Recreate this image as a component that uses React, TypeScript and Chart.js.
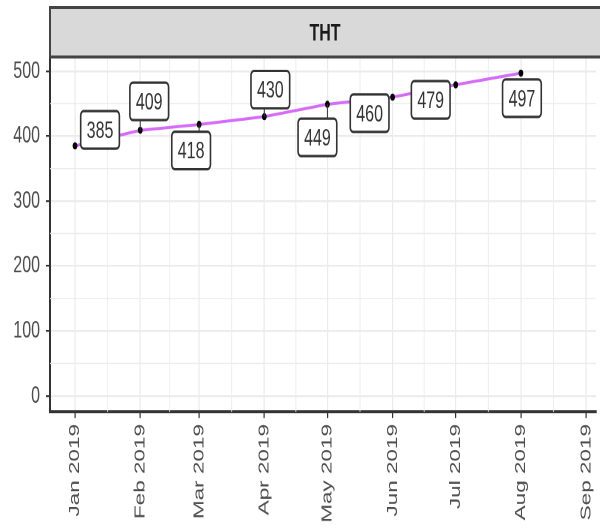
import React, { useEffect, useRef } from "react";
import { Chart, registerables } from "chart.js";

Chart.register(...registerables);

// ---- data ----
const facetTitle = "THT";
const monthLabels = [
  "Jan 2019", "Feb 2019", "Mar 2019", "Apr 2019", "May 2019",
  "Jun 2019", "Jul 2019", "Aug 2019", "Sep 2019",
];
const pointMonths = [0, 1, 2, 3, 4, 5, 6, 7];
const values = [385, 409, 418, 430, 449, 460, 479, 497];
const yTicks = [0, 100, 200, 300, 400, 500];
const yMinorTicks = [50, 150, 250, 350, 450];
// label nudges (page px, from point to label centre), as placed by the repel layout
const labelNudgeX = [25, 9, -8, 6, -10, -23, -25, 1];
const labelNudgeY = [-16, -29, 26, -27, 33, 16, 15, 25];

// ---- layout constants ----
const W = 600;
const PAGE_H = 531;
const SY = 1.5; // vertical stretch of the picture
const H = PAGE_H / SY;
const FONT = "'Liberation Sans', Arial, sans-serif";

const dayOf = (m: number) =>
  (Date.UTC(2019, m, 1) - Date.UTC(2019, 0, 1)) / 86400000;
const monthDays = monthLabels.map((_, i) => dayOf(i));
const minorDays = monthDays.slice(0, -1).map((d, i) => (d + monthDays[i + 1]) / 2);

const X_MIN = -11.9;
const X_MAX = 247.7;
const Y_MIN = -24.85;
const Y_MAX = 521.85;

const decorPlugin = {
  id: "decor",
  beforeDatasetsDraw(chart: any) {
    const { ctx, chartArea: a, scales } = chart;
    ctx.save();
    ctx.strokeStyle = "#ebebeb";
    ctx.lineWidth = 0.8;
    minorDays.forEach((d) => {
      const x = scales.x.getPixelForValue(d);
      ctx.beginPath();
      ctx.moveTo(x, a.top);
      ctx.lineTo(x, a.bottom);
      ctx.stroke();
    });
    yMinorTicks.forEach((v) => {
      const y = scales.y.getPixelForValue(v);
      ctx.beginPath();
      ctx.moveTo(a.left, y);
      ctx.lineTo(a.right, y);
      ctx.stroke();
    });
    ctx.restore();
  },
  afterDatasetsDraw(chart: any) {
    const { ctx, chartArea: a, scales } = chart;
    ctx.save();
    // strip
    const sTop = 5;
    ctx.fillStyle = "#d9d9d9";
    ctx.fillRect(a.left, sTop, W - a.left + 5, a.top - sTop);
    ctx.strokeStyle = "#444";
    ctx.lineWidth = 2;
    ctx.strokeRect(a.left, sTop, W - a.left + 5, a.top - sTop);
    ctx.fillStyle = "#1a1a1a";
    ctx.font = `bold 16px ${FONT}`;
    ctx.textAlign = "center";
    ctx.textBaseline = "middle";
    ctx.fillText(facetTitle, (a.left + W) / 2, (sTop + a.top) / 2 + 1);

    // labels
    ctx.font = `16px ${FONT}`;
    values.forEach((v, i) => {
      const px = scales.x.getPixelForValue(dayOf(pointMonths[i]));
      const py = scales.y.getPixelForValue(v);
      const cx = px + labelNudgeX[i];
      const cy = py + labelNudgeY[i] / SY;
      const txt = String(v);
      const tw = ctx.measureText(txt).width;
      const bw = tw + 12;
      const bh = 25;
      const l = cx - bw / 2;
      const t = cy - bh / 2;
      const nx = Math.min(Math.max(px, l), l + bw);
      const ny = Math.min(Math.max(py, t), t + bh);
      const dist = Math.hypot(nx - px, (ny - py) * SY);
      if (dist > 7) {
        ctx.strokeStyle = "#333";
        ctx.lineWidth = 1;
        ctx.beginPath();
        ctx.moveTo(px, py);
        ctx.lineTo(nx, ny);
        ctx.stroke();
      }
      ctx.beginPath();
      ctx.roundRect(l, t, bw, bh, 3);
      ctx.fillStyle = "#ffffff";
      ctx.fill();
      ctx.strokeStyle = "#333";
      ctx.lineWidth = 1.6;
      ctx.stroke();
      ctx.fillStyle = "#333";
      ctx.textAlign = "center";
      ctx.textBaseline = "middle";
      ctx.fillText(txt, cx, cy + 1);
    });
    ctx.restore();
  },
};

export default function App() {
  const ref = useRef<HTMLCanvasElement | null>(null);

  useEffect(() => {
    if (!ref.current) return;
    const chart = new Chart(ref.current, {
      type: "line",
      data: {
        datasets: [
          {
            data: values.map((v, i) => ({ x: dayOf(pointMonths[i]), y: v })),
            borderColor: "#d46cf7",
            borderWidth: 2,
            pointBackgroundColor: "#000",
            pointBorderColor: "#000",
            pointRadius: 2.4,
            pointBorderWidth: 0,
            tension: 0,
          },
        ],
      },
      options: {
        animation: false,
        responsive: false,
        devicePixelRatio: 2,
        layout: { padding: { top: 38, right: 0, left: 0, bottom: 0 } },
        plugins: {
          legend: { display: false },
          tooltip: { enabled: false },
        },
        scales: {
          x: {
            type: "linear",
            min: X_MIN,
            max: X_MAX,
            afterBuildTicks: (s: any) => {
              s.ticks = monthDays.map((d) => ({ value: d }));
            },
            afterFit: (s: any) => {
              s.height = H - 412 / SY;
              s.paddingLeft = 0;
              s.paddingRight = 0;
            },
            grid: {
              color: "#ebebeb",
              lineWidth: 1.2,
              tickLength: 4,
              tickColor: "#333",
              tickWidth: 1.2,
            },
            border: { display: true, color: "#333", width: 2 },
            ticks: {
              autoSkip: false,
              minRotation: 90,
              maxRotation: 90,
              padding: 4,
              color: "#4d4d4d",
              font: { family: FONT, size: 15 },
              callback: (v: any) => {
                const i = monthDays.indexOf(Number(v));
                return i >= 0 ? monthLabels[i] : "";
              },
            },
          },
          y: {
            type: "linear",
            min: Y_MIN,
            max: Y_MAX,
            afterBuildTicks: (s: any) => {
              s.ticks = yTicks.map((v) => ({ value: v }));
            },
            afterFit: (s: any) => {
              s.width = 50;
              s.paddingTop = 0;
              s.paddingBottom = 0;
            },
            grid: {
              color: "#ebebeb",
              lineWidth: 1.2,
              tickLength: 4,
              tickColor: "#333",
              tickWidth: 1.2,
            },
            border: { display: true, color: "#333", width: 2 },
            ticks: {
              padding: 6,
              color: "#4d4d4d",
              font: { family: FONT, size: 16 },
            },
          },
        },
      },
      plugins: [decorPlugin],
    });
    return () => chart.destroy();
  }, []);

  return (
    <div
      style={{
        position: "fixed",
        left: 0,
        top: 0,
        width: W,
        height: PAGE_H,
        overflow: "hidden",
        background: "#fff",
      }}
    >
      <canvas
        ref={ref}
        width={W}
        height={H}
        style={{
          display: "block",
          width: W,
          height: H,
          transform: `scaleY(${SY})`,
          transformOrigin: "0 0",
        }}
      />
    </div>
  );
}
